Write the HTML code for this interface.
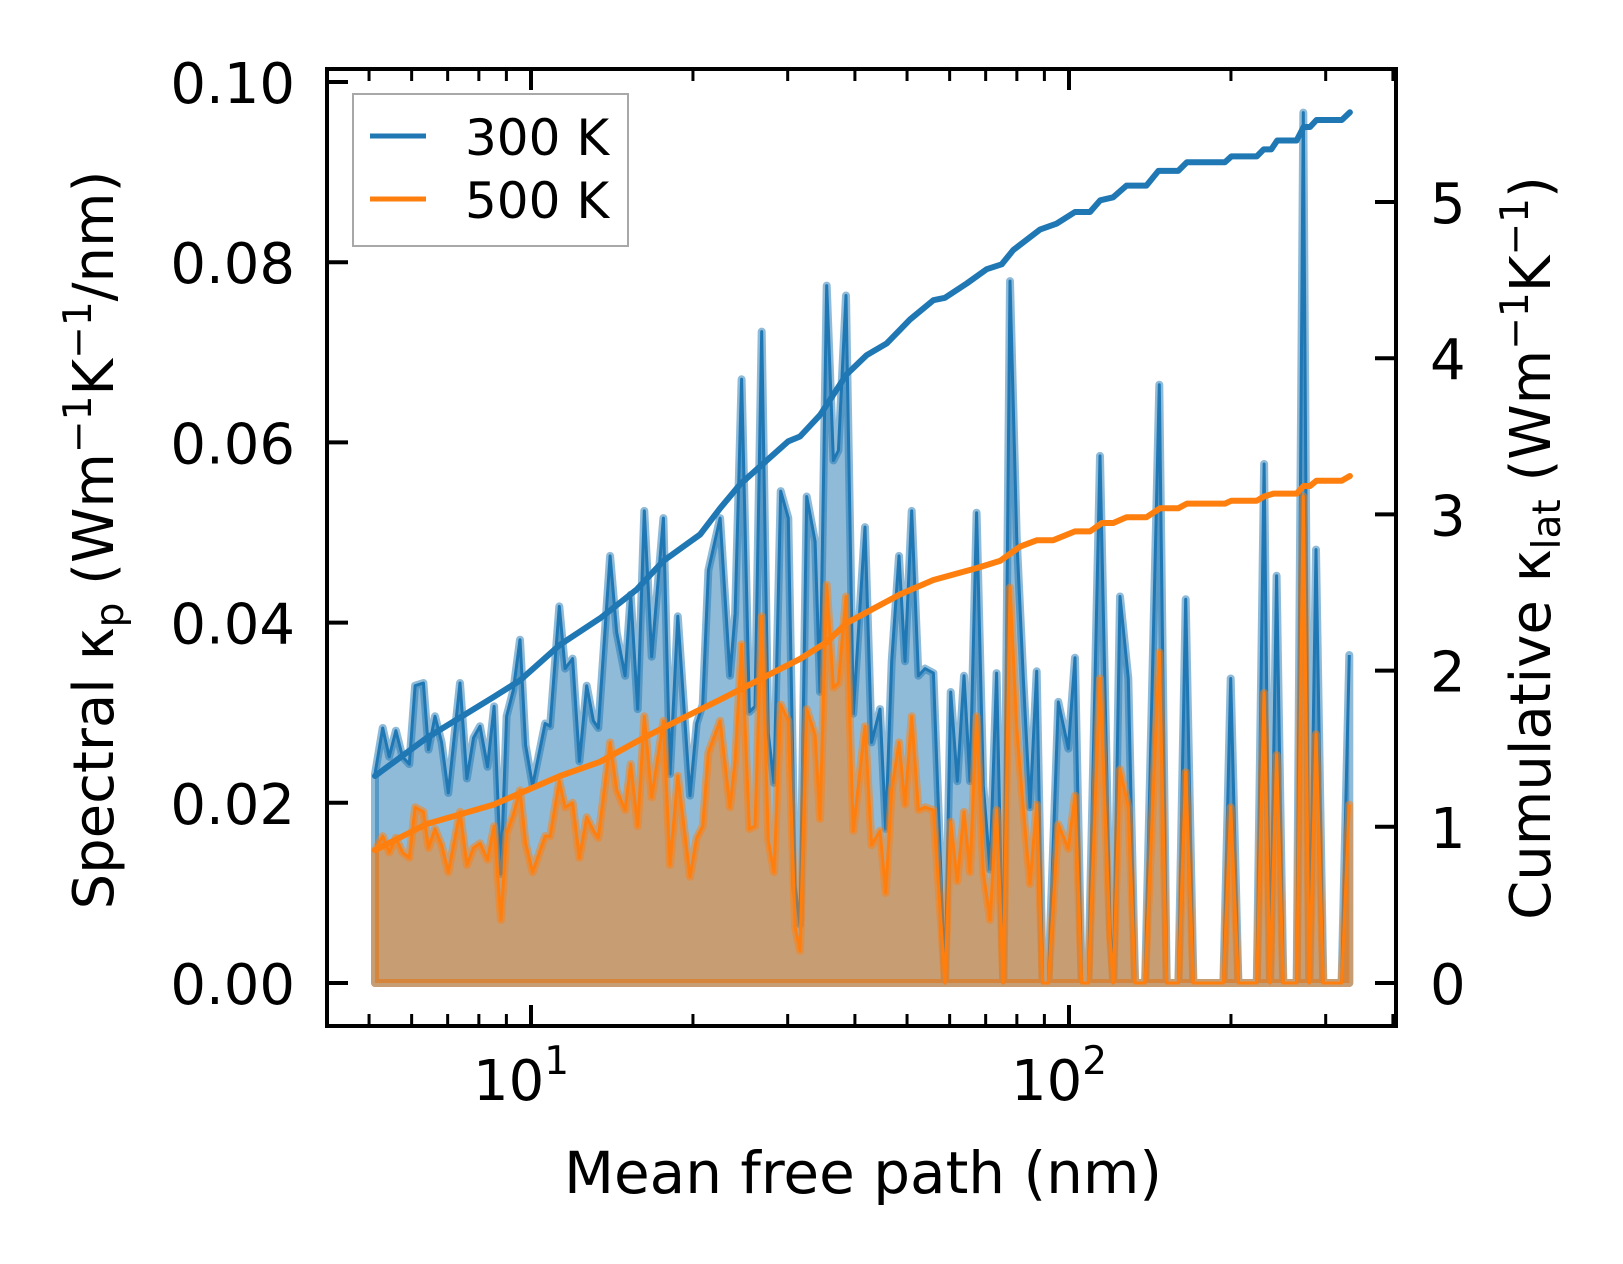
<!DOCTYPE html>
<html><head><meta charset="utf-8"><style>
html,body{margin:0;padding:0;background:#fff;}
svg{display:block;font-family:"DejaVu Sans","Liberation Sans",sans-serif;}
</style></head><body>
<svg id="chart" width="1623" height="1264" viewBox="0 0 1623 1264" xmlns="http://www.w3.org/2000/svg">
<rect width="1623" height="1264" fill="#fff"/>
<g id="plot"></g>
<g id="axes"></g>
<g>
<rect x="353" y="94" width="275" height="152" fill="#fff" fill-opacity="0.8" stroke="#a8a8a8" stroke-width="2"/>
<line x1="370" y1="136" x2="426" y2="136" stroke="#1f77b4" stroke-width="5"/>
<text x="465" y="155" font-size="50">300 K</text>
<line x1="370" y1="199" x2="426" y2="199" stroke="#ff7f0e" stroke-width="5"/>
<text x="465" y="218" font-size="50">500 K</text>
</g>
<text x="863" y="1193" font-size="58" text-anchor="middle">Mean free path (nm)</text>
<text transform="translate(113,540) rotate(-90)" font-size="56" text-anchor="middle">Spectral κ<tspan font-size="39" dy="10">p</tspan><tspan dy="-10"> (Wm</tspan><tspan font-size="39" dy="-22">−1</tspan><tspan dy="22">K</tspan><tspan font-size="39" dy="-22">−1</tspan><tspan dy="22">/nm)</tspan></text>
<text transform="translate(1550,548) rotate(-90)" font-size="56" text-anchor="middle">Cumulative κ<tspan font-size="39" dy="10">lat</tspan><tspan dy="-10"> (Wm</tspan><tspan font-size="39" dy="-22">−1</tspan><tspan dy="22">K</tspan><tspan font-size="39" dy="-22">−1</tspan><tspan dy="22">)</tspan></text>
</svg>
<script>
const mfp = [5.13,5.30,5.45,5.61,5.77,5.94,6.09,6.31,6.45,6.63,6.82,7.02,7.38,7.60,7.82,8.04,8.30,8.54,8.79,9.01,9.27,9.54,9.77,10.07,10.62,10.85,11.29,11.57,11.95,12.30,12.69,13.06,13.34,14.03,14.43,14.96,15.32,15.79,16.24,16.76,17.62,18.13,18.74,19.75,20.32,20.85,21.37,
22.46,23.44,23.95,24.63,25.46,26.08,26.84,27.61,28.29,29.11,30.08,30.96,31.62,32.54,33.73,34.45,35.45,36.48,37.27,38.51,39.72,41.76,42.97,44.54,45.63,46.82,48.31,49.57,51.00,52.48,54.00,55.96,58.83,60.26,62.01,63.81,65.46,67.35,69.30,71.31,73.37,75.50,77.69,79.94,82.26,84.64,87.09,89.35,91.53,95.52,
99.7,102.6,105.6,108.6,114.2,119.2,120.9,124.4,128.9,132.7,138.5,147.2,151.9,159.7,164.8,170.3,193.6,199.8,206.5,223.4,230.5,236.4,243.2,250.2,265.0,272.6,279.7,287.8,297.0,321.2,331.9];
const spec300 = [.0232,.0283,.0251,.0280,.0251,.0243,.0330,.0333,.0259,.0296,.0267,.0211,.0333,.0227,.0272,.0285,.0240,.0307,.0121,.0296,.0325,.0381,.0264,.0219,.0288,.0285,.0418,.0349,.0360,.0246,.0330,.0291,.0283,.0474,.0389,.0341,.0431,.0304,.0524,.0362,.0516,.0232,.0407,.0208,.0288,.0309,.0458,
.0516,.0341,.0410,.0670,.0301,.0307,.0723,.0277,.0222,.0546,.0516,.0108,.0065,.0540,.0490,.0323,.0774,.0580,.0591,.0763,.0299,.0506,.0267,.0304,.0171,.0357,.0474,.0357,.0524,.0341,.0349,.0344,0,.0323,.0224,.0341,.0224,.0522,.0219,.0126,.0344,0,.0779,.0495,.0336,.0195,.0346,0,0,.0312,
.0260,.0361,0,0,.0585,.0065,0,.0429,.0338,0,0,.0664,0,0,.0426,0,0,.0338,0,0,.0576,0,.0452,0,0,.0966,0,.0481,0,0,.0364];
const spec500 = [.0147,.0163,.0145,.0161,.0145,.0139,.0195,.0190,.0150,.0171,.0153,.0123,.0190,.0131,.0150,.0155,.0137,.0174,.0070,.0166,.0187,.0214,.0155,.0123,.0163,.0163,.0224,.0195,.0200,.0139,.0184,.0169,.0161,.0267,.0214,.0192,.0243,.0174,.0296,.0206,.0291,.0131,.0230,.0118,.0161,.0174,.0256,
.0291,.0195,.0246,.0376,.0171,.0174,.0407,.0158,.0123,.0309,.0291,.0062,.0036,.0304,.0275,.0182,.0442,.0328,.0333,.0429,.0169,.0285,.0153,.0169,.0100,.0214,.0267,.0198,.0296,.0192,.0195,.0192,0,.0179,.0113,.0190,.0123,.0296,.0123,.0070,.0192,0,.0439,.0283,.0192,.0110,.0198,0,0,.0176,
.0149,.0208,0,0,.0338,.0050,0,.0237,.0195,0,0,.0367,0,0,.0234,0,0,.0195,0,0,.0322,0,.0253,0,0,.0540,0,.0276,0,0,.0198];
const cumX300 = [5.13,6.40,8.51,9.54,11.32,13.44,15.72,17.62,18.92,20.62,22.46,24.46,27.42,30.08,31.62,34.45,38.61,42.06,45.83,50.63,55.96,58.83,64.54,70.31,74.96,78.80,88.3,94.8,102.6,109.4,114.3,120.8,127.9,139.3,146.6,159.6,165.6,195.0,200.4,223.4,230.1,237.7,243.8,264.9,272.9,280.5,288.4,321.4,332.7];
const cum300 = [1.325,1.569,1.830,1.937,2.166,2.335,2.519,2.702,2.779,2.871,3.039,3.192,3.345,3.468,3.499,3.636,3.896,4.019,4.095,4.248,4.371,4.387,4.478,4.570,4.601,4.693,4.823,4.861,4.936,4.936,5.011,5.030,5.105,5.105,5.199,5.199,5.255,5.255,5.292,5.292,5.337,5.337,5.394,5.394,5.480,5.480,5.525,5.525,5.574];
const cumX500 = [5.13,6.40,8.51,11.32,13.44,16.18,18.66,22.46,27.42,31.62,35.45,38.61,43.28,48.52,55.96,67.35,74.43,81.1,87.1,93.5,102.6,109.4,115.1,120.8,127.9,139.3,147.6,159.6,165.6,195.0,200.4,223.4,230.1,239.9,264.9,272.9,280.5,288.4,321.4,332.7];
const cum500 = [0.850,1.018,1.141,1.325,1.416,1.569,1.677,1.814,1.967,2.075,2.182,2.304,2.396,2.488,2.580,2.656,2.702,2.794,2.834,2.835,2.891,2.891,2.945,2.945,2.982,2.982,3.039,3.039,3.069,3.069,3.088,3.088,3.114,3.133,3.133,3.182,3.182,3.216,3.216,3.246];
const leftTicks = [0,0.02,0.04,0.06,0.08,0.10];
const leftTickLabels = ["0.00","0.02","0.04","0.06","0.08","0.10"];
const rightTicks = [0,1,2,3,4,5];
const rightTickLabels = ["0","1","2","3","4","5"];
const xMajor = [10,100];
const xMajorExp = ["1","2"];
const xMinor = [5,6,7,8,9,20,30,40,50,60,70,80,90,200,300,400];

const L=327,R=1396,T=69,B=1026;
function xs(v){return 531+(Math.log10(v)-1)*538;}
function yl(v){return 983-v*9010;}
function yr(v){return 983-v*156.2;}
const NS="http://www.w3.org/2000/svg";
function mk(tag,attrs,parent){const e=document.createElementNS(NS,tag);for(const k in attrs)e.setAttribute(k,attrs[k]);parent.appendChild(e);return e;}
const plot=document.getElementById('plot');
const axes=document.getElementById('axes');

function spectral(vals,color,rgb,name){
  const pts=mfp.map((m,i)=>xs(m).toFixed(1)+','+yl(vals[i]).toFixed(1));
  const poly=pts.concat([xs(mfp[mfp.length-1]).toFixed(1)+','+yl(0).toFixed(1),xs(mfp[0]).toFixed(1)+','+yl(0).toFixed(1)]);
  const a=mk('polygon',{points:poly.join(' '),fill:'rgba('+rgb+',0.5)',stroke:'rgba('+rgb+',0.5)','stroke-width':8,'stroke-linejoin':'round'},plot);
  
  
  const l=mk('polyline',{points:pts.join(' '),fill:'none',stroke:color,'stroke-width':3,'stroke-linejoin':'round'},plot);
  
  
}
spectral(spec300,'#1f77b4','31,119,180','spectral-300k');
spectral(spec500,'#ff7f0e','255,127,14','spectral-500k');
function cum(xa,ya,color,name){
  const pts=xa.map((m,i)=>xs(m).toFixed(1)+','+yr(ya[i]).toFixed(1));
  const l=mk('polyline',{points:pts.join(' '),fill:'none',stroke:color,'stroke-width':6,'stroke-linejoin':'round','stroke-linecap':'round'},plot);
  
  
}
cum(cumX300,cum300,'#1f77b4','cumulative-300k-line');
cum(cumX500,cum500,'#ff7f0e','cumulative-500k-line');

const fr=mk('rect',{x:L,y:T,width:R-L,height:B-T,fill:'none',stroke:'#000','stroke-width':4},axes);


leftTicks.forEach((v,i)=>{
  const y=yl(v);
  const t=mk('line',{x1:L,x2:L+21,y1:y,y2:y,stroke:'#000','stroke-width':4},axes);
  
  
  const tx=mk('text',{x:295,y:y+21,'font-size':56,'text-anchor':'end'},axes);
  tx.textContent=leftTickLabels[i];
  
  
});
rightTicks.forEach((v,i)=>{
  const y=yr(v);
  const t=mk('line',{x1:R-21,x2:R,y1:y,y2:y,stroke:'#000','stroke-width':4},axes);
  
  
  const tx=mk('text',{x:1430,y:y+21,'font-size':56},axes);
  tx.textContent=rightTickLabels[i];
  
  
});
xMajor.forEach((v,i)=>{
  const x=xs(v);
  [[B,B-21],[T,T+21]].forEach(p=>{
    const t=mk('line',{x1:x,x2:x,y1:p[0],y2:p[1],stroke:'#000','stroke-width':4},axes);
    
    
  });
  const tx=mk('text',{x:x-10,y:1100,'font-size':56,'text-anchor':'middle'},axes);
  
  
  tx.appendChild(document.createTextNode('10'));
  const s=mk('tspan',{'font-size':39,dy:-26},tx);
  s.textContent=xMajorExp[i];
});
xMinor.forEach(v=>{
  const x=xs(v);
  if(x<L||x>R)return;
  [[B,B-12],[T,T+12]].forEach(p=>{
    const t=mk('line',{x1:x,x2:x,y1:p[0],y2:p[1],stroke:'#000','stroke-width':3},axes);
    
    
  });
});
</script>
</body></html>
